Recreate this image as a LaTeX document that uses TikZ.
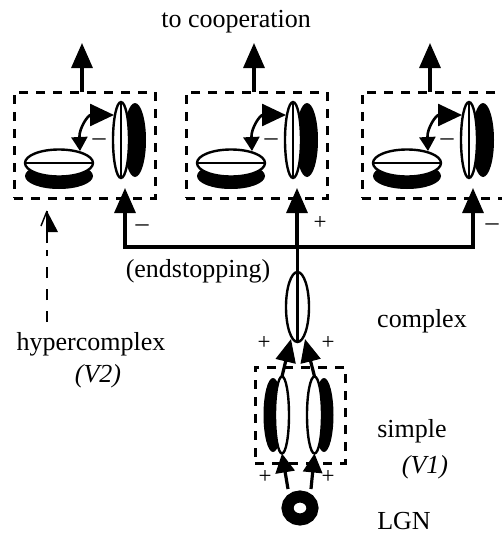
\documentclass[tikz,border=0pt]{standalone}
\usepackage{fontspec}
\setmainfont{Liberation Serif}
\usetikzlibrary{arrows.meta,shapes.geometric}

\begin{document}
\begin{tikzpicture}[x=1pt,y=-1pt,
  every node/.style={inner sep=0pt, outer sep=0pt},
  lbl/.style={font=\fontsize{26}{30}\selectfont, anchor=base},
  sgn/.style={font=\fontsize{23}{24}\selectfont},
  wire/.style={line width=3.2pt},
  split/.style={line width=2.2pt},
  cellw/.style={ellipse, draw, fill=white, line width=2.4pt},
  cellk/.style={ellipse, fill=black},
  pbox/.style={draw, line width=3pt, dash pattern=on 9pt off 8pt},
  uptip/.style={-{Triangle[length=25pt,width=21pt]}},
  fbtip/.style={{Triangle[length=14pt,width=16pt]}-{Triangle[length=24pt,width=22pt]}},
  ctip/.style={-{Triangle[length=23pt,width=20pt]}},
  ltip/.style={-{Triangle[length=19pt,width=19pt]}},
]
\useasboundingbox (0,0) rectangle (502,536);

% three endstopped hypercomplex units with their feedback loops
\foreach \k/\dx in {1/0, 2/172, 3/348}{
  \node[pbox, minimum width=141, minimum height=106] (b\k) at (84.5+\dx,145) {};
  % vertical cell with its dark flank
  \node[cellk, minimum width=22, minimum height=74] (vs\k) at (135+\dx,140) {};
  \node[cellw, minimum width=16, minimum height=76] (v\k) at (121+\dx,140) {};
  \draw[split] (v\k.north) -- (v\k.south);
  % horizontal cell with its dark flank
  \node[cellk, minimum width=68, minimum height=26] (hs\k) at (59+\dx,176) {};
  \node[cellw, minimum width=68, minimum height=27] (h\k) at (59+\dx,163) {};
  \draw[split] (h\k.west) -- (h\k.east);
  % mutual inhibition between the two orientations
  \coordinate (fa\k) at (80+\dx,151);
  \coordinate (fb\k) at (114+\dx,115);
  \draw[line width=2.6pt, fbtip] (fa\k) .. controls (79+\dx,128) and (88+\dx,115) .. (fb\k);
  \node[lbl] (m\k) at (99+\dx,145) {–};
  % output towards cooperation
  \coordinate (out\k) at (82+\dx,43);
  \draw[wire, uptip] (b\k.north -| out\k) -- (out\k);
  % input from the complex stage
  \coordinate (in\k) at (125+\dx,247);
  \coordinate (t\k) at (125+\dx,188);
}

\node[lbl] (coop) at (236,27) {to cooperation};

% distribution of the complex signal
\draw[wire, uptip] (in2) -- (t2);
\draw[wire, {Triangle[length=25pt,width=21pt]}-{Triangle[length=25pt,width=21pt]}]
  (t1) -- (in1) -- (in3) -- (t3);
\node[lbl] (s1) at (142,231) {–};
\node[sgn] (s2) at (320,223) {+};
\node[lbl] (s3) at (492,230) {–};

% complex cell
\node[cellw, minimum width=23, minimum height=70] (cx) at (297.5,307) {};
\draw[split] (cx.north) -- (cx.south);
\draw[wire] (cx.north) -- (cx.north |- in2);
\node[lbl] (endst) at (198,277) {(endstopping)};
\node[lbl] (cxl) at (422,327) {complex};

% hypercomplex pathway
\coordinate (hy0) at (47,322);
\coordinate (hy1) at (47,243);
\coordinate (hy2) at (47,211);
\draw[line width=2.8pt, dash pattern=on 11pt off 11pt] (hy0) -- (47,250);
\draw[line width=2.8pt] (hy1) -- (hy2);
\fill (hy2) -- (58,232) -- (47,232) -- cycle;
\draw[line width=1.4pt] (hy2) -- (41,226);
\node[lbl] (hyl) at (91,350) {hypercomplex};
\node[lbl] (v2) at (98,382) {\itshape (V2)};

% simple cells
\node[pbox, minimum width=90, minimum height=96] (sbox) at (300,415) {};
\node[cellk, minimum width=19, minimum height=74] (sls) at (273,415) {};
\node[cellw, minimum width=14, minimum height=77] (sl) at (282,415) {};
\node[cellk, minimum width=19, minimum height=74] (srs) at (324,415) {};
\node[cellw, minimum width=15, minimum height=77] (sr) at (314.5,415) {};
\coordinate (ca) at (291,339);
\coordinate (cb) at (305,339);
\draw[wire, ctip] (sl.north) -- (ca);
\draw[wire, ctip] (sr.north) -- (cb);
\node[sgn] (p1) at (264,343) {+};
\node[sgn] (p2) at (328,343) {+};
\node[lbl] (sml) at (412,437) {simple};
\node[lbl] (v1) at (425,473) {\itshape (V1)};

% LGN input
\node[ellipse, draw, line width=12pt, minimum width=25, minimum height=23] (lgn) at (300,508) {};
\coordinate (la) at (288,489);
\coordinate (lb) at (311,489);
\draw[wire, ltip] (la) -- (sl.south);
\draw[wire, ltip] (lb) -- (sr.south);
\node[sgn] (p3) at (265,477) {+};
\node[sgn] (p4) at (328,477) {+};
\node[lbl] (lgnl) at (404,529) {LGN};
\end{tikzpicture}
\end{document}
